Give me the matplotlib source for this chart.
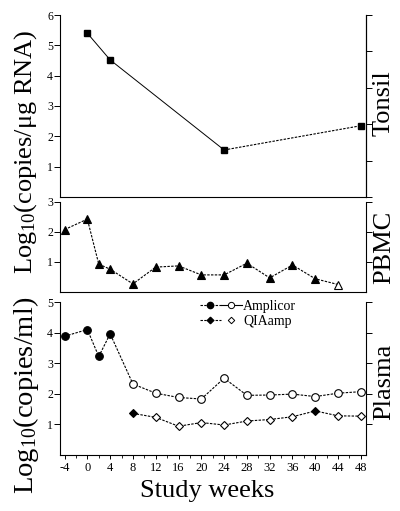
import matplotlib
matplotlib.use("Agg")
import matplotlib.pyplot as plt
from matplotlib.lines import Line2D
from matplotlib.legend_handler import HandlerTuple
import numpy as np

plt.rcParams['font.family'] = ['Liberation Serif', 'DejaVu Serif']
plt.rcParams['mathtext.fontset'] = 'custom'
plt.rcParams['mathtext.rm'] = 'Liberation Serif'
plt.rcParams['mathtext.it'] = 'Liberation Serif:italic'

# ---- data ----
tonsil_weeks = [0, 4, 24, 48]
tonsil_vals = [5.40, 4.52, 1.55, 2.35]

pbmc_weeks = [-4, 0, 2, 4, 8, 12, 16, 20, 24, 28, 32, 36, 40, 44]
pbmc_vals = [2.08, 2.43, 0.93, 0.76, 0.27, 0.83, 0.87, 0.57, 0.57, 0.96, 0.47, 0.90, 0.44, 0.25]
pbmc_detected = [1, 1, 1, 1, 1, 1, 1, 1, 1, 1, 1, 1, 1, 0]

amp_weeks = [-4, 0, 2, 4, 8, 12, 16, 20, 24, 28, 32, 36, 40, 44, 48]
amp_vals = [3.88, 4.10, 3.22, 3.96, 2.32, 2.02, 1.88, 1.83, 2.51, 1.95, 1.96, 1.99, 1.91, 2.02, 2.07]
amp_detected = [1, 1, 1, 1, 0, 0, 0, 0, 0, 0, 0, 0, 0, 0, 0]

qia_weeks = [8, 12, 16, 20, 24, 28, 32, 36, 40, 44, 48]
qia_vals = [1.36, 1.23, 0.94, 1.06, 0.98, 1.11, 1.16, 1.25, 1.44, 1.28, 1.27]
qia_detected = [1, 0, 0, 0, 0, 0, 0, 0, 1, 0, 0]

xticks = list(range(-4, 49, 4))
panel_names = ["Tonsil", "PBMC", "Plasma"]
legend_labels = ["Amplicor", "QIAamp"]

# ---- figure ----
W, H = 400, 511
fig = plt.figure(figsize=(W / 100, H / 100), dpi=100)

def axes_px(left, top, right, bottom):
    return fig.add_axes([left / W, 1 - bottom / H, (right - left) / W, (bottom - top) / H])

L, R = 60, 366
ax1 = axes_px(L, 15, R, 197)
ax2 = axes_px(L, 202, R, 292)
ax3 = axes_px(L, 302, R, 455)

dash = (0, (2.2, 1.2))
lw = 0.8

for ax, ymax in ((ax1, 6), (ax2, 3), (ax3, 5)):
    ax.set_xlim(-4.8, 48.9)
    ax.set_ylim(0, ymax)
    ax.spines['top'].set_visible(False)
    for s in ('left', 'right', 'bottom'):
        ax.spines[s].set_linewidth(0.8)
    ax.set_yticks(range(1, ymax + 1))
    ax.tick_params(axis='y', direction='out', length=4, width=0.7, pad=1, labelsize=8.5,
                   right=True, labelright=False)
    ax.set_xticks([])

# tonsil right ticks differ
ax1.tick_params(axis='y', right=False)
ax1r = ax1.twinx()
ax1r.set_ylim(0, 6)
ax1r.set_yticks(np.linspace(0, 6, 6))
ax1r.set_yticklabels([])
ax1r.tick_params(axis='y', direction='out', length=4, width=0.7)
for s in ('top', 'left', 'bottom'):
    ax1r.spines[s].set_visible(False)
ax1r.spines['right'].set_linewidth(0.8)

# plasma x ticks
ax3.set_xticks(xticks)
ax3.set_xticklabels([str(t) for t in xticks])
ax3.set_xticks(list(range(-4, 49, 2)), minor=True)
ax3.tick_params(axis='x', which='major', direction='out', length=3, width=0.7, pad=2, labelsize=9)
ax3.tick_params(axis='x', which='minor', direction='out', length=2, width=0.6)

# Tonsil
ax1.plot(tonsil_weeks[:3], tonsil_vals[:3], color='black', lw=0.7, ls='-')
ax1.plot(tonsil_weeks[2:], tonsil_vals[2:], color='black', lw=lw, ls=dash)
ax1.plot(tonsil_weeks, tonsil_vals, ls='none', marker='s', ms=3.8, color='black')

# PBMC
ax2.plot(pbmc_weeks, pbmc_vals, color='black', lw=lw, ls=dash)
for w, v, d in zip(pbmc_weeks, pbmc_vals, pbmc_detected):
    ax2.plot([w], [v], ls='none', marker='^', ms=5.2, mec='black', mew=0.8,
             mfc='black' if d else 'white')

# Plasma
ax3.plot(amp_weeks, amp_vals, color='black', lw=lw, ls=dash)
for w, v, d in zip(amp_weeks, amp_vals, amp_detected):
    ax3.plot([w], [v], ls='none', marker='o', ms=5.5, mec='black', mew=0.8,
             mfc='black' if d else 'white')
ax3.plot(qia_weeks, qia_vals, color='black', lw=lw, ls=dash)
for w, v, d in zip(qia_weeks, qia_vals, qia_detected):
    ax3.plot([w], [v], ls='none', marker='D', ms=4.0, mec='black', mew=0.8,
             mfc='black' if d else 'white')

# legend
h_amp = (Line2D([], [], color='black', lw=lw, ls=dash, marker='o', ms=4.5, mfc='black', mec='black'),
         Line2D([], [], color='black', lw=lw, ls='-', marker='o', ms=4.5, mfc='white', mec='black', mew=0.7))
h_qia = (Line2D([], [], color='black', lw=lw, ls=dash, marker='D', ms=3.3, mfc='black', mec='black'),
         Line2D([], [], color='none', lw=lw, marker='D', ms=3.3, mfc='white', mec='black', mew=0.7))
ax3.legend([h_amp, h_qia], legend_labels, handler_map={tuple: HandlerTuple(ndivide=None, pad=0)},
           loc='upper left', bbox_to_anchor=(200 / W, 1 - 300 / H), bbox_transform=fig.transFigure,
           frameon=False, fontsize=10, handlelength=3.0, handletextpad=0.1, labelspacing=0.15,
           borderaxespad=0, borderpad=0)

# labels
fig.text(26 / W, 1 - 152 / H, r'Log$_{10}$(copies/μg RNA)', rotation=90, ha='center', va='center', fontsize=19)
fig.text(26 / W, 1 - 395 / H, r'Log$_{10}$(copies/ml)', rotation=90, ha='center', va='center', fontsize=20.5)
fig.text(207 / W, 1 - 491 / H, 'Study weeks', ha='center', va='center', fontsize=19)
for name, yc in zip(panel_names, (103, 247, 382)):
    fig.text(384 / W, 1 - yc / H, name, rotation=90, ha='center', va='center', fontsize=19)

fig.savefig('out.png', dpi=100)
